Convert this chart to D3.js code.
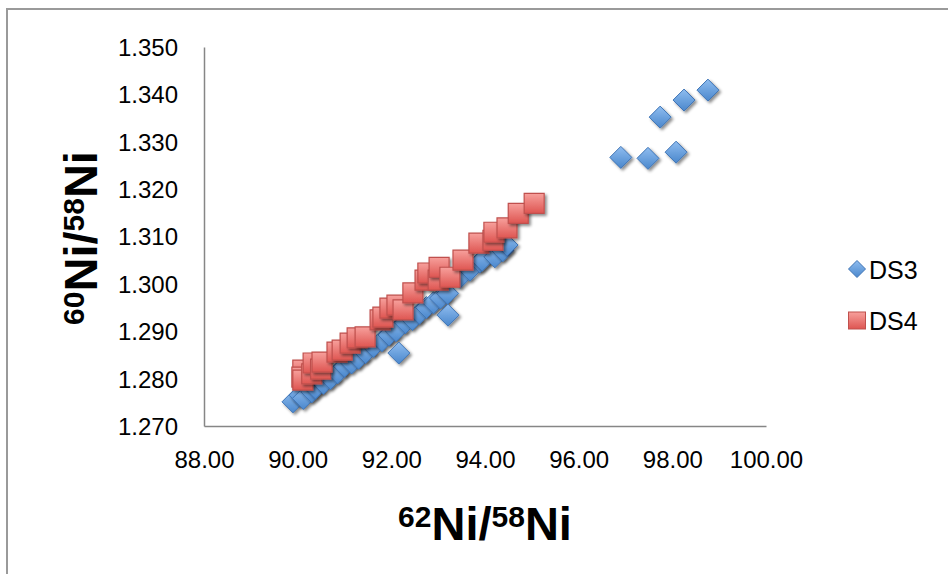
<!DOCTYPE html>
<html>
<head>
<meta charset="utf-8">
<script src="https://cdn.jsdelivr.net/npm/d3@7"></script>
<style>
    body { margin: 0; background: #fff; }
    svg { display: block; font-family: 'Liberation Sans', Arial, sans-serif; }
    .tick text { font-size: 24px; fill: #000; }
</style>
</head>
<body>
<div id="chart"></div>
<script>
// x = 62Ni/58Ni, y = 60Ni/58Ni
var ds3X = [89.90, 90.05, 90.12, 90.30, 90.38, 90.55, 90.70, 90.85, 91.00, 91.15,
            91.30, 91.45, 91.62, 91.80, 91.95, 92.10, 92.30, 92.45, 92.60, 92.75,
            92.90, 93.05, 93.20, 93.47, 93.68, 93.89, 93.94, 94.21, 94.38, 94.47,
            92.16, 93.21, 96.90, 97.48, 98.08, 97.74, 98.25, 98.76];
var ds3Y = [1.2751, 1.2765, 1.2758, 1.2772, 1.2780, 1.2790, 1.2800, 1.2812, 1.2826, 1.2833,
            1.2843, 1.2855, 1.2868, 1.2880, 1.2892, 1.2901, 1.2918, 1.2925, 1.2938, 1.2950,
            1.2960, 1.2970, 1.2980, 1.3014, 1.3029, 1.3046, 1.3050, 1.3057, 1.3070, 1.3082,
            1.2854, 1.2934, 1.3267, 1.3265, 1.3278, 1.3352, 1.3388, 1.3409];

var ds4X = [90.11, 90.09, 90.11, 90.30, 90.33, 90.49, 90.52, 90.84, 90.95, 91.12,
            91.27, 91.44, 91.76, 91.82, 91.97, 92.12, 92.25, 92.46, 92.72, 92.78,
            93.00, 93.02, 93.25, 93.53, 93.87, 94.17, 94.19, 94.47, 94.71, 95.05];
var ds4Y = [1.2818, 1.2803, 1.2797, 1.2810, 1.2833, 1.2820, 1.2835, 1.2856, 1.2860, 1.2875,
            1.2886, 1.2888, 1.2924, 1.2930, 1.2949, 1.2955, 1.2945, 1.2981, 1.3008, 1.3023,
            1.3008, 1.3035, 1.3014, 1.3050, 1.3086, 1.3092, 1.3109, 1.3118, 1.3149, 1.3170];

var xTicks = [88, 90, 92, 94, 96, 98, 100];
var yTicks = [1.27, 1.28, 1.29, 1.30, 1.31, 1.32, 1.33, 1.34, 1.35];

var width = 948, height = 574;

var svg = d3.select('#chart').append('svg')
    .attr('width', width)
    .attr('height', height);

var defs = svg.append('defs');

var blueGrad = defs.append('linearGradient').attr('id', 'blueGrad')
    .attr('x1', 0).attr('y1', 0).attr('x2', 0).attr('y2', 1);
blueGrad.append('stop').attr('offset', '0%').attr('stop-color', '#8fbdf0');
blueGrad.append('stop').attr('offset', '100%').attr('stop-color', '#4a87cc');

var redGrad = defs.append('linearGradient').attr('id', 'redGrad')
    .attr('x1', 0).attr('y1', 0).attr('x2', 0).attr('y2', 1);
redGrad.append('stop').attr('offset', '0%').attr('stop-color', '#f7a09c');
redGrad.append('stop').attr('offset', '100%').attr('stop-color', '#de5551');

var shadow = defs.append('filter').attr('id', 'shadow')
    .attr('x', '-50%').attr('y', '-50%').attr('width', '200%').attr('height', '200%');
shadow.append('feDropShadow')
    .attr('dx', 2).attr('dy', 2).attr('stdDeviation', 1.6)
    .attr('flood-color', '#000').attr('flood-opacity', 0.45);

// outer chart border
svg.append('rect')
    .attr('x', 7).attr('y', 9)
    .attr('width', width + 20).attr('height', height + 20)
    .attr('fill', 'none')
    .attr('stroke', '#9a9a9a')
    .attr('stroke-width', 2);

var x = d3.scaleLinear().domain([88, 100]).range([204, 766]);
var y = d3.scaleLinear().domain([1.27, 1.35]).range([426, 47]);

var xAxis = svg.append('g')
    .attr('transform', 'translate(0,' + y(1.27) + ')')
    .call(d3.axisBottom(x).tickValues(xTicks).tickSize(0).tickPadding(25)
        .tickFormat(d3.format('.2f')));
xAxis.select('.domain').attr('stroke', '#868686').attr('stroke-width', 1.5);

var yAxis = svg.append('g')
    .attr('transform', 'translate(' + x(88) + ',0)')
    .call(d3.axisLeft(y).tickValues(yTicks).tickSize(0).tickPadding(26)
        .tickFormat(d3.format('.3f')));
yAxis.select('.domain').attr('stroke', '#868686').attr('stroke-width', 1.5);
yAxis.selectAll('.tick text').attr('dy', '0.35em');

var ds3 = ds3X.map(function(v, i) { return { x: v, y: ds3Y[i] }; });
var ds4 = ds4X.map(function(v, i) { return { x: v, y: ds4Y[i] }; });

var diamond = 'M0,-11L11,0L0,11L-11,0Z';
var square = 'M-10,-10H10V10H-10Z';

svg.append('g').selectAll('path')
    .data(ds3)
    .enter()
    .append('path')
    .attr('d', diamond)
    .attr('transform', function(d) { return 'translate(' + x(d.x) + ',' + y(d.y) + ')'; })
    .attr('fill', 'url(#blueGrad)')
    .attr('stroke', '#3f74b5')
    .attr('stroke-width', 1)
    .attr('filter', 'url(#shadow)');

svg.append('g').selectAll('path')
    .data(ds4)
    .enter()
    .append('path')
    .attr('d', square)
    .attr('transform', function(d) { return 'translate(' + x(d.x) + ',' + y(d.y) + ')'; })
    .attr('fill', 'url(#redGrad)')
    .attr('stroke', '#c0504d')
    .attr('stroke-width', 1.2)
    .attr('filter', 'url(#shadow)');

// axis titles
function isotopeTitle(sel, top) {
    sel.append('tspan').attr('font-size', 30).attr('baseline-shift', '45%').text(top);
    sel.append('tspan').text('Ni/');
    sel.append('tspan').attr('font-size', 30).attr('baseline-shift', '45%').text('58');
    sel.append('tspan').text('Ni');
}

var xTitle = svg.append('text')
    .attr('x', 485).attr('y', 540)
    .attr('text-anchor', 'middle')
    .attr('font-weight', 'bold')
    .attr('font-size', 47);
isotopeTitle(xTitle, '62');

var yTitle = svg.append('text')
    .attr('transform', 'translate(97,238) rotate(-90)')
    .attr('text-anchor', 'middle')
    .attr('font-weight', 'bold')
    .attr('font-size', 47);
isotopeTitle(yTitle, '60');

// legend
var legend = svg.append('g').attr('transform', 'translate(857,0)');
legend.append('path')
    .attr('d', 'M0,-8.5L8.5,0L0,8.5L-8.5,0Z')
    .attr('transform', 'translate(0,269)')
    .attr('fill', 'url(#blueGrad)')
    .attr('stroke', '#3f74b5');
legend.append('text')
    .attr('x', 12).attr('y', 270).attr('dy', '0.35em')
    .attr('font-size', 25)
    .text('DS3');
legend.append('rect')
    .attr('x', -8.5).attr('y', 312).attr('width', 17).attr('height', 17)
    .attr('fill', 'url(#redGrad)')
    .attr('stroke', '#c0504d');
legend.append('text')
    .attr('x', 12).attr('y', 321).attr('dy', '0.35em')
    .attr('font-size', 25)
    .text('DS4');
</script>
</body>
</html>
